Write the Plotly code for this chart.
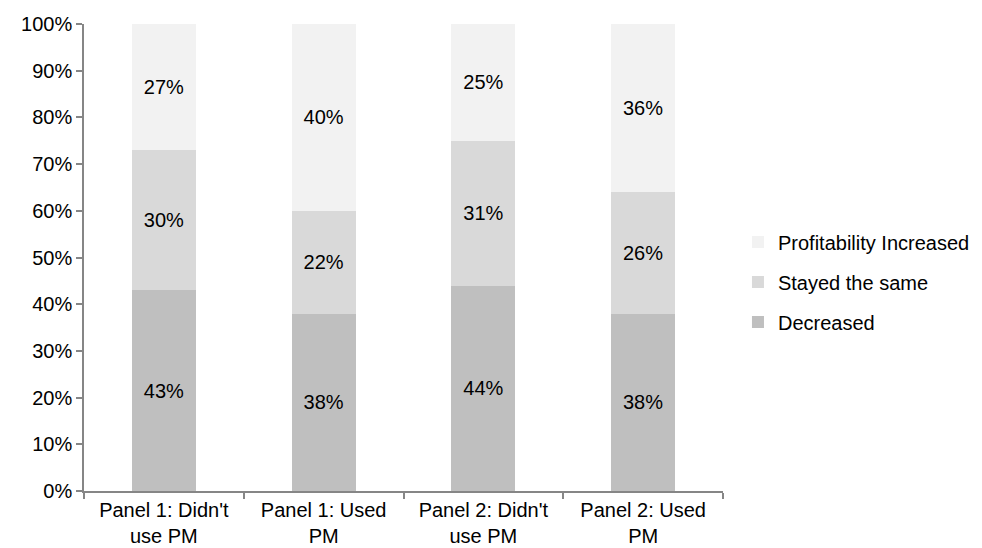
import plotly.graph_objects as go

# Share of respondents by change in profitability, per panel group
categories = ["Panel 1: Didn't<br>use PM", "Panel 1: Used<br>PM",
              "Panel 2: Didn't<br>use PM", "Panel 2: Used<br>PM"]
decreased = [43, 38, 44, 38]
stayed_same = [30, 22, 31, 26]
increased = [27, 40, 25, 36]

# (name, values, colour, legend rank) — stacked bottom to top, listed top to bottom
series = [
    ("Decreased", decreased, "#BFBFBF", 3),
    ("Stayed the same", stayed_same, "#D9D9D9", 2),
    ("Profitability Increased", increased, "#F2F2F2", 1),
]

FONT = "Liberation Sans, Arial, sans-serif"
AXIS_GRAY = "#868686"

fig = go.Figure()
for name, values, color, rank in series:
    fig.add_trace(go.Bar(
        x=categories,
        y=values,
        name=name,
        legendgroup=name,
        legendrank=rank,
        marker=dict(color=color, line=dict(width=0)),
        text=values,
        texttemplate="%{text}%",
        textposition="inside",
        insidetextanchor="middle",
        textangle=0,
        textfont=dict(family=FONT, size=20, color="#000000"),
        hoverinfo="skip",
    ))

fig.update_layout(
    width=982,
    height=548,
    barmode="stack",
    bargap=0.6,
    paper_bgcolor="white",
    plot_bgcolor="white",
    margin=dict(l=84, r=259, t=24, b=57),
    font=dict(family=FONT, size=20, color="#000000"),
    showlegend=True,
    legend=dict(
        traceorder="grouped",
        xref="container",
        yref="container",
        x=0.7515,
        xanchor="left",
        y=0.4854,
        yanchor="middle",
        tracegroupgap=11,
        itemwidth=30,
        font=dict(family=FONT, size=20, color="#000000"),
        bgcolor="rgba(0,0,0,0)",
    ),
    xaxis=dict(
        automargin=False,
        showline=True,
        linecolor=AXIS_GRAY,
        linewidth=1.5,
        ticks="outside",
        tickson="boundaries",
        ticklen=6,
        tickcolor=AXIS_GRAY,
        tickwidth=1.5,
        showgrid=False,
        tickfont=dict(family=FONT, size=20, color="#000000"),
    ),
    yaxis=dict(
        automargin=False,
        range=[0, 100],
        dtick=10,
        ticksuffix="%",
        showline=True,
        linecolor=AXIS_GRAY,
        linewidth=1.5,
        ticks="outside",
        ticklen=6,
        tickcolor=AXIS_GRAY,
        tickwidth=1.5,
        showgrid=False,
        zeroline=False,
        tickfont=dict(family=FONT, size=20, color="#000000"),
    ),
)

fig.write_html("out.html")
